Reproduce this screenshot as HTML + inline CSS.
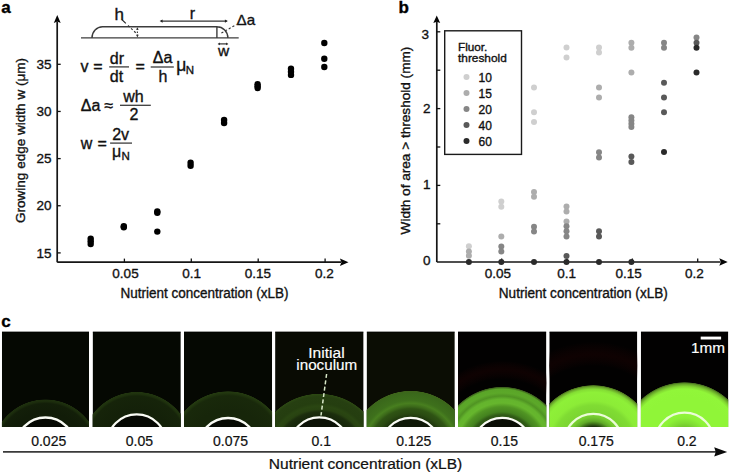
<!DOCTYPE html>
<html><head><meta charset="utf-8"><style>
html,body{margin:0;padding:0;background:#fff;}
svg{display:block;}
text{font-family:"Liberation Sans",sans-serif;fill:#111;stroke:#111;stroke-width:0.35px;}
.lbl{font-weight:bold;font-size:17px;fill:#000;stroke:#000;}
.tk{font-size:13.5px;}
.ttl{font-size:13.3px;}
.axis{stroke:#161616;stroke-width:1.7;fill:none;}
.tick{stroke:#111;stroke-width:1.3;fill:none;}
.arr{fill:#050505;}
.dg{stroke:#3c3c3c;stroke-width:1.4;}
.dgl{stroke:#333;stroke-width:1.2;}
.dgd{stroke:#333;stroke-width:1.1;stroke-dasharray:2.2 2;fill:none;}
.dgd2{stroke:#333;stroke-width:1.1;stroke-dasharray:1.6 1.4;fill:none;}
.dgt{font-size:17px;}
.eq{font-size:16px;}
.eqs{font-size:11.5px;}
.fb{stroke:#3c3c3c;stroke-width:1.3;}
.lg{font-size:12px;}
.wt{font-size:14px;fill:#fff;stroke:#fff;stroke-width:0.15px;}
.cl{font-size:14px;stroke-width:0.22px;}
</style></head>
<body><svg width="730" height="473" viewBox="0 0 730 473">
<defs><clipPath id="c0"><rect x="1.9" y="331.5" width="87.1" height="95.5"/></clipPath><radialGradient id="g0" cx="45.45" cy="453.2" r="54" gradientUnits="userSpaceOnUse"><stop offset="0" stop-color="rgb(17,28,8)"/><stop offset="0.76" stop-color="rgb(17,28,8)"/><stop offset="0.92" stop-color="rgb(19,31,9)"/><stop offset="0.96" stop-color="rgb(28,45,13)"/><stop offset="0.99" stop-color="rgb(30,48,14)"/><stop offset="1" stop-color="rgb(5,8,2)"/></radialGradient><radialGradient id="w0" cx="45.45" cy="447" r="29.5" gradientUnits="userSpaceOnUse"><stop offset="0" stop-color="rgb(6,9,3)"/><stop offset="1" stop-color="rgb(6,9,3)"/></radialGradient><clipPath id="c1"><rect x="92.6" y="331.5" width="88.2" height="95.5"/></clipPath><radialGradient id="g1" cx="136.7" cy="446.6" r="54.9" gradientUnits="userSpaceOnUse"><stop offset="0" stop-color="rgb(20,33,9)"/><stop offset="0.67" stop-color="rgb(20,33,9)"/><stop offset="0.92" stop-color="rgb(22,36,10)"/><stop offset="0.96" stop-color="rgb(31,50,14)"/><stop offset="0.99" stop-color="rgb(33,53,15)"/><stop offset="1" stop-color="rgb(5,8,2)"/></radialGradient><radialGradient id="w1" cx="136.7" cy="443.9" r="29.5" gradientUnits="userSpaceOnUse"><stop offset="0" stop-color="rgb(6,9,3)"/><stop offset="1" stop-color="rgb(6,9,3)"/></radialGradient><clipPath id="c2"><rect x="184" y="331.5" width="88.1" height="95.5"/></clipPath><radialGradient id="g2" cx="228.05" cy="449.3" r="58.2" gradientUnits="userSpaceOnUse"><stop offset="0" stop-color="rgb(23,38,10)"/><stop offset="0.68" stop-color="rgb(23,38,10)"/><stop offset="0.92" stop-color="rgb(25,41,11)"/><stop offset="0.97" stop-color="rgb(34,55,15)"/><stop offset="0.99" stop-color="rgb(36,58,16)"/><stop offset="1" stop-color="rgb(5,8,2)"/></radialGradient><radialGradient id="w2" cx="228.05" cy="447.5" r="29.5" gradientUnits="userSpaceOnUse"><stop offset="0" stop-color="rgb(7,10,3)"/><stop offset="1" stop-color="rgb(7,10,3)"/></radialGradient><clipPath id="c3"><rect x="275.1" y="331.5" width="88.5" height="95.5"/></clipPath><radialGradient id="g3" cx="319.35" cy="457" r="63.5" gradientUnits="userSpaceOnUse"><stop offset="0" stop-color="rgb(24,40,11)"/><stop offset="0.65" stop-color="rgb(24,40,11)"/><stop offset="0.71" stop-color="rgb(28,46,13)"/><stop offset="0.75" stop-color="rgb(40,66,17)"/><stop offset="0.8" stop-color="rgb(42,70,18)"/><stop offset="0.85" stop-color="rgb(37,62,16)"/><stop offset="0.95" stop-color="rgb(38,63,17)"/><stop offset="0.99" stop-color="rgb(44,72,19)"/><stop offset="1" stop-color="rgb(9,11,3)"/></radialGradient><radialGradient id="w3" cx="319.35" cy="446.8" r="29.5" gradientUnits="userSpaceOnUse"><stop offset="0" stop-color="rgb(12,18,6)"/><stop offset="1" stop-color="rgb(12,18,6)"/></radialGradient><clipPath id="c4"><rect x="366.6" y="331.5" width="88.2" height="95.5"/></clipPath><radialGradient id="g4" cx="410.7" cy="451.3" r="60.7" gradientUnits="userSpaceOnUse"><stop offset="0" stop-color="rgb(34,60,15)"/><stop offset="0.58" stop-color="rgb(34,60,15)"/><stop offset="0.63" stop-color="rgb(42,74,18)"/><stop offset="0.7" stop-color="rgb(47,84,20)"/><stop offset="0.74" stop-color="rgb(60,106,26)"/><stop offset="0.79" stop-color="rgb(72,127,31)"/><stop offset="0.84" stop-color="rgb(62,112,28)"/><stop offset="0.96" stop-color="rgb(58,104,27)"/><stop offset="0.99" stop-color="rgb(62,100,27)"/><stop offset="1" stop-color="rgb(11,13,4)"/></radialGradient><radialGradient id="w4" cx="410.7" cy="447.3" r="29.5" gradientUnits="userSpaceOnUse"><stop offset="0" stop-color="rgb(15,25,8)"/><stop offset="1" stop-color="rgb(15,25,8)"/></radialGradient><clipPath id="c5"><rect x="458" y="331.5" width="88.4" height="95.5"/></clipPath><radialGradient id="g5" cx="502.2" cy="449.6" r="63" gradientUnits="userSpaceOnUse"><stop offset="0" stop-color="rgb(48,90,22)"/><stop offset="0.55" stop-color="rgb(48,90,22)"/><stop offset="0.6" stop-color="rgb(68,130,31)"/><stop offset="0.68" stop-color="rgb(80,148,35)"/><stop offset="0.74" stop-color="rgb(102,182,45)"/><stop offset="0.8" stop-color="rgb(100,180,45)"/><stop offset="0.85" stop-color="rgb(80,148,35)"/><stop offset="0.9" stop-color="rgb(92,168,41)"/><stop offset="0.96" stop-color="rgb(90,165,40)"/><stop offset="0.99" stop-color="rgb(58,92,28)"/><stop offset="1" stop-color="rgb(2,1,1)"/></radialGradient><radialGradient id="w5" cx="502.2" cy="447.3" r="29.5" gradientUnits="userSpaceOnUse"><stop offset="0" stop-color="rgb(10,14,5)"/><stop offset="1" stop-color="rgb(10,14,5)"/></radialGradient><radialGradient id="r5" cx="502.2" cy="449.6" r="97.6" gradientUnits="userSpaceOnUse"><stop offset="0.72" stop-color="rgb(22,3,3)" stop-opacity="0"/><stop offset="0.82" stop-color="rgb(16,2,2)" stop-opacity="0.9"/><stop offset="0.91" stop-color="rgb(22,3,3)" stop-opacity="0"/></radialGradient><clipPath id="c6"><rect x="549.3" y="331.5" width="88" height="95.5"/></clipPath><radialGradient id="g6" cx="593.3" cy="446.5" r="61.6" gradientUnits="userSpaceOnUse"><stop offset="0" stop-color="rgb(124,214,50)"/><stop offset="0.56" stop-color="rgb(124,214,50)"/><stop offset="0.67" stop-color="rgb(128,220,51)"/><stop offset="0.74" stop-color="rgb(140,236,55)"/><stop offset="0.88" stop-color="rgb(142,240,56)"/><stop offset="0.93" stop-color="rgb(132,222,52)"/><stop offset="0.97" stop-color="rgb(105,165,42)"/><stop offset="0.99" stop-color="rgb(75,115,30)"/><stop offset="1" stop-color="rgb(2,1,1)"/></radialGradient><radialGradient id="w6" cx="593.3" cy="443" r="29.2" gradientUnits="userSpaceOnUse"><stop offset="0" stop-color="rgb(20,38,8)"/><stop offset="0.55" stop-color="rgb(24,44,10)"/><stop offset="0.65" stop-color="rgb(60,110,25)"/><stop offset="0.75" stop-color="rgb(95,170,40)"/><stop offset="0.89" stop-color="rgb(116,202,48)"/><stop offset="1" stop-color="rgb(124,214,50)"/></radialGradient><radialGradient id="r6" cx="593.3" cy="446.5" r="116.5" gradientUnits="userSpaceOnUse"><stop offset="0.69" stop-color="rgb(22,3,3)" stop-opacity="0"/><stop offset="0.79" stop-color="rgb(16,2,2)" stop-opacity="0.9"/><stop offset="0.9" stop-color="rgb(22,3,3)" stop-opacity="0"/></radialGradient><clipPath id="c7"><rect x="640.8" y="331.5" width="87.5" height="95.5"/></clipPath><radialGradient id="g7" cx="684.55" cy="445.8" r="63.8" gradientUnits="userSpaceOnUse"><stop offset="0" stop-color="rgb(144,245,56)"/><stop offset="0.66" stop-color="rgb(144,245,56)"/><stop offset="0.76" stop-color="rgb(144,245,56)"/><stop offset="0.89" stop-color="rgb(145,246,57)"/><stop offset="0.93" stop-color="rgb(130,215,50)"/><stop offset="0.97" stop-color="rgb(100,160,40)"/><stop offset="0.99" stop-color="rgb(70,110,30)"/><stop offset="1" stop-color="rgb(2,1,1)"/></radialGradient><radialGradient id="w7" cx="684.55" cy="442" r="29.4" gradientUnits="userSpaceOnUse"><stop offset="0" stop-color="rgb(110,190,44)"/><stop offset="0.51" stop-color="rgb(115,198,46)"/><stop offset="0.65" stop-color="rgb(128,220,52)"/><stop offset="0.82" stop-color="rgb(140,240,55)"/><stop offset="1" stop-color="rgb(145,246,57)"/></radialGradient></defs>
<rect width="730" height="473" fill="#fff"/>
<text x="1.2" y="13" class="lbl">a</text>
<path d="M57.2 262.2V21.5M57.2 262.2H341" class="axis"/>
<path d="M57.25 15L53.8 22.9L57.25 21.4L60.7 22.9Z" class="arr"/>
<path d="M348.5 262.2L339.9 258.5L341.4 262.2L339.9 265.9Z" class="arr"/>
<path d="M57.2 252.9H60.7" class="tick"/>
<text x="51.5" y="257.5" class="tk" text-anchor="end">15</text>
<path d="M57.2 205.75H60.7" class="tick"/>
<text x="51.5" y="210.35" class="tk" text-anchor="end">20</text>
<path d="M57.2 158.6H60.7" class="tick"/>
<text x="51.5" y="163.2" class="tk" text-anchor="end">25</text>
<path d="M57.2 111.45H60.7" class="tick"/>
<text x="51.5" y="116.05" class="tk" text-anchor="end">30</text>
<path d="M57.2 64.3H60.7" class="tick"/>
<text x="51.5" y="68.9" class="tk" text-anchor="end">35</text>
<path d="M124.4 262.2V258.6" class="tick"/>
<text x="125.5" y="278.4" class="tk" text-anchor="middle">0.05</text>
<path d="M191.3 262.2V258.6" class="tick"/>
<text x="191.6" y="278.4" class="tk" text-anchor="middle">0.1</text>
<path d="M258.2 262.2V258.6" class="tick"/>
<text x="257.8" y="278.4" class="tk" text-anchor="middle">0.15</text>
<path d="M325.1 262.2V258.6" class="tick"/>
<text x="324.3" y="278.4" class="tk" text-anchor="middle">0.2</text>
<text x="120.6" y="297.7" class="ttl" style="font-size:14px" textLength="168" lengthAdjust="spacingAndGlyphs">Nutrient concentration (xLB)</text>
<text transform="translate(25 223) rotate(-90)" class="ttl" textLength="165" lengthAdjust="spacingAndGlyphs">Growing edge width w (μm)</text>
<circle cx="90.7" cy="238.6" r="3.2" fill="#000"/>
<circle cx="90.7" cy="241.3" r="3.2" fill="#000"/>
<circle cx="90.7" cy="244.1" r="3.2" fill="#000"/>
<circle cx="123.8" cy="226.3" r="3.2" fill="#000"/>
<circle cx="123.8" cy="227.3" r="3.2" fill="#000"/>
<circle cx="157.3" cy="211.5" r="3.2" fill="#000"/>
<circle cx="157.3" cy="212.7" r="3.2" fill="#000"/>
<circle cx="157.3" cy="231.6" r="3.2" fill="#000"/>
<circle cx="190.6" cy="162.8" r="3.2" fill="#000"/>
<circle cx="190.6" cy="165.7" r="3.2" fill="#000"/>
<circle cx="224.1" cy="120" r="3.2" fill="#000"/>
<circle cx="224.1" cy="123" r="3.2" fill="#000"/>
<circle cx="257.6" cy="84.3" r="3.2" fill="#000"/>
<circle cx="257.6" cy="86.2" r="3.2" fill="#000"/>
<circle cx="257.6" cy="88" r="3.2" fill="#000"/>
<circle cx="291" cy="68.7" r="3.2" fill="#000"/>
<circle cx="291" cy="71.8" r="3.2" fill="#000"/>
<circle cx="291" cy="74.9" r="3.2" fill="#000"/>
<circle cx="324.3" cy="43" r="3.2" fill="#000"/>
<circle cx="324.3" cy="58.7" r="3.2" fill="#000"/>
<circle cx="324.3" cy="67" r="3.2" fill="#000"/>
<path d="M81 37.9H238.7" class="dg"/>
<path d="M92 37.9A10.5 11.2 0 0 1 102.5 26.7H216.9V37.9M216.9 26.7A11 11.2 0 0 1 227.9 37.9" class="dg" fill="none"/>
<path d="M122.2 19.8L125.8 23.4" stroke="#222" stroke-width="1.2"/><path d="M128 25.5L136.6 33.6" class="dgd"/>
<path d="M137.4 28.5V36.5" class="dgd2"/>
<path d="M137.4 27.2l-1.3 2.6h2.6z M137.4 37.4l-1.3 -2.6h2.6z" fill="#333"/>
<path d="M161 21.1H226.5" class="dgl"/>
<path d="M159.6 21.1l3 -1.6v3.2z M227.9 21.1l-3 -1.6v3.2z" fill="#222"/>
<path d="M221.4 33L236.4 24.6" class="dgd"/>
<path d="M219 43.9H227" class="dgl"/>
<path d="M217.6 43.9l2.2 -1.3v2.6z M228.4 43.9l-2.2 -1.3v2.6z" fill="#222"/>
<text x="114.6" y="19.7" class="dgt">h</text>
<text x="189.8" y="19.4" class="dgt" style="font-size:16px">r</text>
<text x="236.6" y="25.2" class="dgt" style="font-size:15px" textLength="18.6" lengthAdjust="spacingAndGlyphs">Δa</text>
<text x="217.9" y="55.6" class="dgt" style="font-size:15.5px">w</text>
<text x="80.6" y="71.8" class="eq">v</text>
<text x="93.2" y="71.8" class="eq">=</text>
<text x="109.8" y="63.5" class="eq">dr</text>
<path d="M109.2 66.9H129" class="fb"/>
<text x="109.8" y="81.6" class="eq">dt</text>
<text x="135.4" y="71.8" class="eq">=</text>
<text x="152.8" y="63.4" class="eq">Δa</text>
<path d="M150.7 67H173.8" class="fb"/>
<text x="158.4" y="81.8" class="eq">h</text>
<text x="176.2" y="70.6" class="eq" style="font-size:17.5px">μ</text>
<text x="185.8" y="73.5" class="eqs">N</text>
<text x="80.8" y="110.8" class="eq">Δa</text>
<text x="104.4" y="110.8" class="eq">≈</text>
<text x="123.3" y="101.6" class="eq">wh</text>
<path d="M120 105.3H150.8" class="fb"/>
<text x="129.5" y="119.5" class="eq">2</text>
<text x="80.8" y="149" class="eq">w</text>
<text x="97.4" y="149" class="eq">=</text>
<text x="112.2" y="139.7" class="eq">2v</text>
<path d="M110.1 143.1H132" class="fb"/>
<text x="112" y="157" class="eq">μ</text>
<text x="121.6" y="159.5" class="eqs">N</text>
<text x="398.6" y="13.4" class="lbl">b</text>
<path d="M436.8 262V21.5M436.8 262H720.5" class="axis"/>
<path d="M436.75 15.4L433.3 23.1L436.75 21.7L440.2 23.1Z" class="arr"/>
<path d="M727.7 262L719.3 258.3L720.8 262L719.3 265.7Z" class="arr"/>
<path d="M436.8 223.8H440.3" class="tick"/>
<path d="M436.8 185.4H440.3" class="tick"/>
<path d="M436.8 147H440.3" class="tick"/>
<path d="M436.8 108.6H440.3" class="tick"/>
<path d="M436.8 70.2H440.3" class="tick"/>
<path d="M436.8 31.8H440.3" class="tick"/>
<text x="430.6" y="264.8" class="tk" text-anchor="end">0</text>
<text x="430.4" y="189.1" class="tk" text-anchor="end">1</text>
<text x="430.6" y="113.4" class="tk" text-anchor="end">2</text>
<text x="429.0" y="39.0" class="tk" text-anchor="end">3</text>
<path d="M501.65 262V258.4" class="tick"/>
<text x="497.8" y="277.7" class="tk" text-anchor="middle">0.05</text>
<path d="M567 262V258.4" class="tick"/>
<text x="566.7" y="277.7" class="tk" text-anchor="middle">0.1</text>
<path d="M632.35 262V258.4" class="tick"/>
<text x="628.6" y="277.7" class="tk" text-anchor="middle">0.15</text>
<path d="M697.7 262V258.4" class="tick"/>
<text x="694.5" y="277.7" class="tk" text-anchor="middle">0.2</text>
<text x="498.8" y="297.5" class="ttl" style="font-size:14px" textLength="169" lengthAdjust="spacingAndGlyphs">Nutrient concentration (xLB)</text>
<text transform="translate(409.7 234.4) rotate(-90)" class="ttl" textLength="187.7" lengthAdjust="spacingAndGlyphs">Width of area &gt; threshold (mm)</text>
<rect x="444.7" y="30.8" width="76.8" height="123.6" fill="#fff" stroke="#1a1a1a" stroke-width="1.4"/>
<text x="458" y="51.3" class="lg" style="font-size:11.4px" textLength="29.4" lengthAdjust="spacingAndGlyphs">Fluor.</text>
<text x="458" y="61.9" class="lg" style="font-size:11.4px" textLength="48.8" lengthAdjust="spacingAndGlyphs">threshold</text>
<circle cx="466.5" cy="76.9" r="3" fill="#cfcfcf"/>
<text x="478.6" y="81.8" class="lg">10</text>
<circle cx="466.5" cy="92.9" r="3" fill="#adadad"/>
<text x="478.6" y="97.8" class="lg">15</text>
<circle cx="466.5" cy="108.9" r="3" fill="#868686"/>
<text x="478.6" y="113.8" class="lg">20</text>
<circle cx="466.5" cy="124.9" r="3" fill="#595959"/>
<text x="478.6" y="129.8" class="lg">40</text>
<circle cx="466.5" cy="140.9" r="3" fill="#2a2a2a"/>
<text x="478.6" y="145.8" class="lg">60</text>
<circle cx="468.9" cy="246.3" r="3" fill="#cfcfcf"/>
<circle cx="468.9" cy="251.6" r="3" fill="#adadad"/>
<circle cx="468.9" cy="255.8" r="3" fill="#adadad"/>
<circle cx="468.9" cy="261.9" r="3" fill="#2a2a2a"/>
<circle cx="501.3" cy="201.5" r="3" fill="#cfcfcf"/>
<circle cx="501.3" cy="206.8" r="3" fill="#cfcfcf"/>
<circle cx="501.3" cy="236.4" r="3" fill="#adadad"/>
<circle cx="501.3" cy="246.4" r="3" fill="#868686"/>
<circle cx="501.3" cy="251.4" r="3" fill="#868686"/>
<circle cx="501.3" cy="261.9" r="3" fill="#2a2a2a"/>
<circle cx="534" cy="87.4" r="3" fill="#cfcfcf"/>
<circle cx="534" cy="112.2" r="3" fill="#cfcfcf"/>
<circle cx="534" cy="122.1" r="3" fill="#cfcfcf"/>
<circle cx="534" cy="191.9" r="3" fill="#adadad"/>
<circle cx="534" cy="196.7" r="3" fill="#adadad"/>
<circle cx="534" cy="226.7" r="3" fill="#868686"/>
<circle cx="534" cy="231.6" r="3" fill="#868686"/>
<circle cx="534" cy="261.9" r="3" fill="#2a2a2a"/>
<circle cx="566.5" cy="47.6" r="3" fill="#cfcfcf"/>
<circle cx="566.5" cy="57.6" r="3" fill="#cfcfcf"/>
<circle cx="566.5" cy="206.5" r="3" fill="#adadad"/>
<circle cx="566.5" cy="211.4" r="3" fill="#adadad"/>
<circle cx="566.5" cy="221.5" r="3" fill="#adadad"/>
<circle cx="566.5" cy="226.2" r="3" fill="#868686"/>
<circle cx="566.5" cy="231.3" r="3" fill="#868686"/>
<circle cx="566.5" cy="236.4" r="3" fill="#868686"/>
<circle cx="566.5" cy="255.9" r="3" fill="#595959"/>
<circle cx="566.5" cy="261.9" r="3" fill="#2a2a2a"/>
<circle cx="599" cy="47.4" r="3" fill="#cfcfcf"/>
<circle cx="599" cy="52.6" r="3" fill="#cfcfcf"/>
<circle cx="599" cy="87.4" r="3" fill="#adadad"/>
<circle cx="599" cy="97.4" r="3" fill="#adadad"/>
<circle cx="599" cy="152.2" r="3" fill="#868686"/>
<circle cx="599" cy="157.4" r="3" fill="#868686"/>
<circle cx="599" cy="231.2" r="3" fill="#595959"/>
<circle cx="599" cy="236.4" r="3" fill="#595959"/>
<circle cx="599" cy="261.9" r="3" fill="#2a2a2a"/>
<circle cx="631.4" cy="42.7" r="3" fill="#adadad"/>
<circle cx="631.4" cy="47.8" r="3" fill="#adadad"/>
<circle cx="631.4" cy="72.5" r="3" fill="#adadad"/>
<circle cx="631.4" cy="117.3" r="3" fill="#868686"/>
<circle cx="631.4" cy="120.5" r="3" fill="#868686"/>
<circle cx="631.4" cy="123.7" r="3" fill="#868686"/>
<circle cx="631.4" cy="127" r="3" fill="#868686"/>
<circle cx="631.4" cy="156.6" r="3" fill="#595959"/>
<circle cx="631.4" cy="161.9" r="3" fill="#595959"/>
<circle cx="631.4" cy="261.9" r="3" fill="#2a2a2a"/>
<circle cx="664" cy="42.7" r="3" fill="#868686"/>
<circle cx="664" cy="47.8" r="3" fill="#868686"/>
<circle cx="664" cy="82.7" r="3" fill="#595959"/>
<circle cx="664" cy="97.4" r="3" fill="#595959"/>
<circle cx="664" cy="112.2" r="3" fill="#595959"/>
<circle cx="664" cy="152" r="3" fill="#2a2a2a"/>
<circle cx="696.5" cy="37.5" r="3" fill="#868686"/>
<circle cx="696.5" cy="42.7" r="3" fill="#595959"/>
<circle cx="696.5" cy="47.8" r="3" fill="#2a2a2a"/>
<circle cx="696.5" cy="72.5" r="3" fill="#2a2a2a"/>
<text x="1.2" y="327.4" class="lbl">c</text>
<g clip-path="url(#c0)">
<rect x="1.9" y="331.5" width="87.1" height="95.5" fill="rgb(5,8,2)"/>
<circle cx="45.45" cy="453.2" r="54" fill="url(#g0)"/>
<circle cx="45.45" cy="447" r="29.5" fill="url(#w0)"/>
<circle cx="45.45" cy="447" r="29.5" fill="none" stroke="rgb(250,252,245)" stroke-width="2.3"/>
<path d="M1.9 332H89" stroke="#000" stroke-width="1" opacity="0.7"/>
</g>
<g clip-path="url(#c1)">
<rect x="92.6" y="331.5" width="88.2" height="95.5" fill="rgb(5,8,2)"/>
<circle cx="136.7" cy="446.6" r="54.9" fill="url(#g1)"/>
<circle cx="136.7" cy="443.9" r="29.5" fill="url(#w1)"/>
<circle cx="136.7" cy="443.9" r="29.5" fill="none" stroke="rgb(250,252,245)" stroke-width="2.3"/>
<path d="M92.6 332H180.8" stroke="#000" stroke-width="1" opacity="0.7"/>
</g>
<g clip-path="url(#c2)">
<rect x="184" y="331.5" width="88.1" height="95.5" fill="rgb(5,8,2)"/>
<circle cx="228.05" cy="449.3" r="58.2" fill="url(#g2)"/>
<circle cx="228.05" cy="447.5" r="29.5" fill="url(#w2)"/>
<circle cx="228.05" cy="447.5" r="29.5" fill="none" stroke="rgb(250,252,245)" stroke-width="2.3"/>
<path d="M184 332H272.1" stroke="#000" stroke-width="1" opacity="0.7"/>
</g>
<g clip-path="url(#c3)">
<rect x="275.1" y="331.5" width="88.5" height="95.5" fill="rgb(9,11,3)"/>
<circle cx="319.35" cy="457" r="63.5" fill="url(#g3)"/>
<circle cx="319.35" cy="446.8" r="29.5" fill="url(#w3)"/>
<circle cx="319.35" cy="446.8" r="29.5" fill="none" stroke="rgb(250,252,245)" stroke-width="2.3"/>
<path d="M275.1 332H363.6" stroke="#000" stroke-width="1" opacity="0.7"/>
</g>
<g clip-path="url(#c4)">
<rect x="366.6" y="331.5" width="88.2" height="95.5" fill="rgb(11,13,4)"/>
<circle cx="410.7" cy="451.3" r="60.7" fill="url(#g4)"/>
<circle cx="410.7" cy="447.3" r="29.5" fill="url(#w4)"/>
<circle cx="410.7" cy="447.3" r="29.5" fill="none" stroke="rgb(250,252,245)" stroke-width="2.3"/>
<path d="M366.6 332H454.8" stroke="#000" stroke-width="1" opacity="0.7"/>
</g>
<g clip-path="url(#c5)">
<rect x="458" y="331.5" width="88.4" height="95.5" fill="rgb(2,1,1)"/>
<circle cx="502.2" cy="449.6" r="97.6" fill="url(#r5)"/>
<circle cx="502.2" cy="449.6" r="63" fill="url(#g5)"/>
<circle cx="502.2" cy="447.3" r="29.5" fill="url(#w5)"/>
<circle cx="502.2" cy="447.3" r="29.5" fill="none" stroke="rgb(250,252,245)" stroke-width="2.3"/>
<path d="M458 332H546.4" stroke="#000" stroke-width="1" opacity="0.7"/>
</g>
<g clip-path="url(#c6)">
<rect x="549.3" y="331.5" width="88" height="95.5" fill="rgb(2,1,1)"/>
<circle cx="593.3" cy="446.5" r="116.5" fill="url(#r6)"/>
<circle cx="593.3" cy="446.5" r="61.6" fill="url(#g6)"/>
<circle cx="593.3" cy="443" r="29.2" fill="url(#w6)"/>
<circle cx="593.3" cy="443" r="29.2" fill="none" stroke="rgb(235,252,215)" stroke-width="2.3"/>
<path d="M549.3 332H637.3" stroke="#000" stroke-width="1" opacity="0.7"/>
</g>
<g clip-path="url(#c7)">
<rect x="640.8" y="331.5" width="87.5" height="95.5" fill="rgb(2,1,1)"/>
<circle cx="684.55" cy="445.8" r="63.8" fill="url(#g7)"/>
<circle cx="684.55" cy="442" r="29.4" fill="url(#w7)"/>
<circle cx="684.55" cy="442" r="29.4" fill="none" stroke="rgb(235,252,215)" stroke-width="2.3"/>
<path d="M640.8 332H728.3" stroke="#000" stroke-width="1" opacity="0.7"/>
</g>
<text x="308.3" y="358" class="wt" textLength="36.3" lengthAdjust="spacingAndGlyphs">Initial</text>
<text x="296.3" y="370.2" class="wt" textLength="60.9" lengthAdjust="spacingAndGlyphs">inoculum</text>
<path d="M326.6 374L321 415.5" stroke="#d8e8c8" stroke-width="1.5" stroke-dasharray="4 2.4" fill="none"/>
<rect x="700.7" y="336.6" width="20.4" height="2.9" fill="#fff"/>
<text x="691.1" y="352.8" class="wt" textLength="34" lengthAdjust="spacingAndGlyphs">1mm</text>
<text x="48.7" y="446.2" class="cl" text-anchor="middle">0.025</text>
<text x="139.4" y="446.2" class="cl" text-anchor="middle">0.05</text>
<text x="230.6" y="446.2" class="cl" text-anchor="middle">0.075</text>
<text x="321.3" y="446.2" class="cl" text-anchor="middle">0.1</text>
<text x="413.7" y="446.2" class="cl" text-anchor="middle">0.125</text>
<text x="504.4" y="446.2" class="cl" text-anchor="middle">0.15</text>
<text x="596.2" y="446.2" class="cl" text-anchor="middle">0.175</text>
<text x="686.9" y="446.2" class="cl" text-anchor="middle">0.2</text>
<path d="M3 451.9H716" stroke="#3a3a3a" stroke-width="1.9"/>
<path d="M727.2 451.9L714.2 447.2L715.7 451.9L714.2 456.6Z" fill="#0a0a0a"/>
<text x="268.8" y="468.9" class="cl" textLength="193.5" lengthAdjust="spacingAndGlyphs">Nutrient concentration (xLB)</text>
</svg></body></html>
